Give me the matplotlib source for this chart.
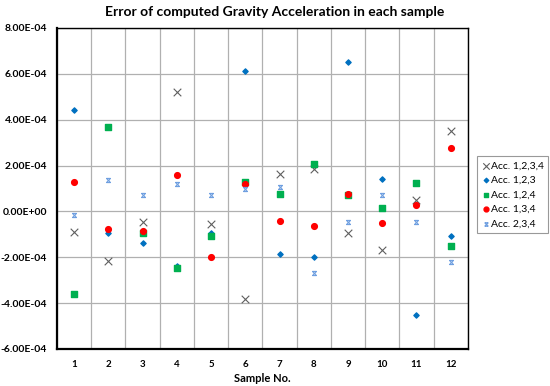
import matplotlib as mpl
import matplotlib.pyplot as plt
from matplotlib.path import Path
from matplotlib.ticker import FuncFormatter, MultipleLocator

mpl.rcParams.update({
    "font.family": ["Lato", "DejaVu Sans"],
    "font.weight": "bold",
})

samples = list(range(1, 13))
acc_1234 = [-0.90e-4, -2.18e-4, -0.46e-4, 5.22e-4, -0.57e-4, -3.82e-4,
            1.61e-4, 1.87e-4, -0.92e-4, -1.68e-4, 0.51e-4, 3.50e-4]
acc_123 = [4.42e-4, -0.95e-4, -1.38e-4, -2.40e-4, -0.95e-4, 6.12e-4,
           -1.87e-4, -1.98e-4, 6.53e-4, 1.41e-4, -4.52e-4, -1.08e-4]
acc_124 = [-3.62e-4, 3.69e-4, -0.92e-4, -2.46e-4, -1.07e-4, 1.28e-4,
           0.76e-4, 2.08e-4, 0.70e-4, 0.13e-4, 1.22e-4, -1.53e-4]
acc_134 = [1.27e-4, -0.78e-4, -0.86e-4, 1.60e-4, -1.98e-4, 1.21e-4,
           -0.41e-4, -0.65e-4, 0.74e-4, -0.52e-4, 0.30e-4, 2.77e-4]
acc_234 = [-0.17e-4, 1.38e-4, 0.73e-4, 1.18e-4, 0.73e-4, 0.99e-4,
           1.06e-4, -2.70e-4, -0.48e-4, 0.73e-4, -0.48e-4, -2.22e-4]

# Excel-style "star": x with caps top and bottom
star = Path([(-1, -1), (1, 1), (-1, 1), (1, -1), (-1, 1), (1, 1), (-1, -1), (1, -1)],
            [Path.MOVETO, Path.LINETO, Path.MOVETO, Path.LINETO,
             Path.MOVETO, Path.LINETO, Path.MOVETO, Path.LINETO])

series = [
    ("Acc. 1,2,3,4", acc_1234, dict(marker="x", color="#5F5F5F", s=30, linewidths=0.8)),
    ("Acc. 1,2,3", acc_123, dict(marker="D", color="#0070C0", s=7)),
    ("Acc. 1,2,4", acc_124, dict(marker="s", color="#00B050", s=15)),
    ("Acc. 1,3,4", acc_134, dict(marker="o", color="#FF0000", s=17)),
    ("Acc. 2,3,4", acc_234, dict(marker=star, color="#6F9FE0", s=9, linewidths=0.8)),
]

fig = plt.figure(figsize=(5.5, 3.86), dpi=100)
ax = fig.add_axes([0.1036, 0.0959, 0.747, 0.8316])

for label, vals, style in series:
    ax.scatter(samples, vals, label=label, zorder=3, **style)

ax.set_xlim(0.5, 12.5)
ax.set_ylim(-6e-4, 8e-4)
ax.yaxis.set_major_locator(MultipleLocator(2e-4))
ax.yaxis.set_major_formatter(FuncFormatter(lambda v, p: f"{v:.2E}"))
ax.set_xticks(samples)
ax.set_xticks([x + 0.5 for x in range(0, 13)], minor=True)
ax.grid(True, which="minor", axis="x", color="#B0B0B0", linewidth=0.9)
ax.grid(True, which="major", axis="y", color="#B0B0B0", linewidth=0.9)
ax.tick_params(which="both", length=0)
ax.tick_params(axis="y", labelsize=7.5, pad=7)
ax.tick_params(axis="x", labelsize=7, pad=8)
for sp in ax.spines.values():
    sp.set_color("black")
    sp.set_linewidth(1.0)
ax.spines["left"].set_linewidth(1.6)
ax.spines["bottom"].set_linewidth(1.6)

ax.set_xlabel("Sample No.", fontsize=8, fontweight="bold", labelpad=3)
fig.text(0.5, 0.985, "Error of computed Gravity Acceleration in each sample",
         ha="center", va="top", fontsize=10, fontweight="bold")

leg = fig.legend(loc="upper left", bbox_to_anchor=(0.867, 0.595), fontsize=7.5,
                 frameon=True, fancybox=False, edgecolor="#808080",
                 handletextpad=0.1, handlelength=0.8, borderpad=0.45,
                 labelspacing=0.5, markerscale=0.85, borderaxespad=0)
leg.get_frame().set_linewidth(0.8)
for t in leg.get_texts():
    t.set_fontweight("normal")

fig.savefig("out.png", dpi=100)
